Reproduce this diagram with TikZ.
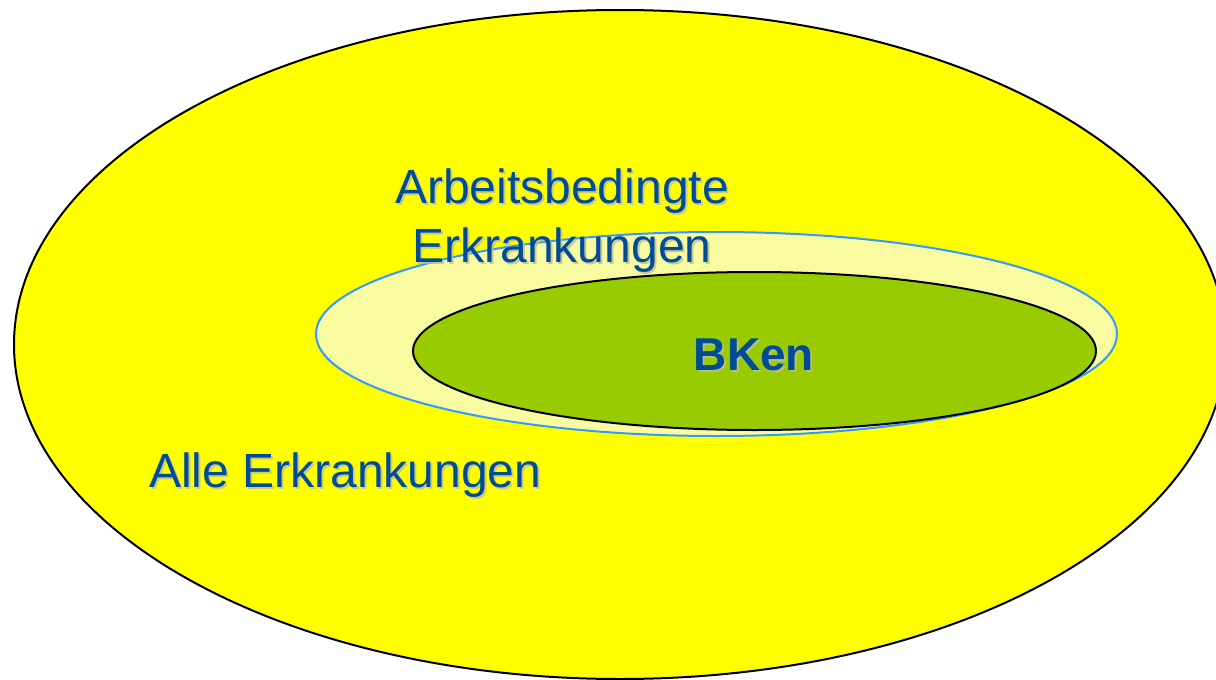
\documentclass[tikz,border=0pt]{standalone}
\usepackage{fontspec}
\setmainfont{Liberation Sans}
\definecolor{outerfill}{RGB}{255,255,0}
\definecolor{midfill}{RGB}{249,251,160}
\definecolor{midline}{RGB}{51,153,255}
\definecolor{innerfill}{RGB}{153,204,0}
\definecolor{txtblue}{RGB}{0,76,153}
\definecolor{shadowgray}{RGB}{190,190,150}
\tikzset{
  lbl/.style={text=txtblue, font=\fontsize{48}{58}\selectfont, inner sep=0pt, anchor=base},
  shd/.style={text=shadowgray, font=\fontsize{48}{58}\selectfont, inner sep=0pt, anchor=base, opacity=0.8},
}
\begin{document}
\begin{tikzpicture}[x=1pt,y=-1pt]
\useasboundingbox (0,0) rectangle (1216,680);
\clip (0,0) rectangle (1216,680);
\fill[white] (0,0) rectangle (1216,680);
% outer
\draw[fill=outerfill, line width=2pt] (620,344.5) ellipse [x radius=606, y radius=334.5];
% middle
\draw[fill=midfill, draw=midline, line width=2pt] (716.5,334) ellipse [x radius=400.5, y radius=102];
% inner
\draw[fill=innerfill, line width=2pt] (754.5,351) ellipse [x radius=341.5, y radius=79];
% texts with shadows
\node[shd] (s1) at (564,205) {Arbeitsbedingte};
\node[lbl] (t1) at (562,203) {Arbeitsbedingte};
\node[shd] (s2) at (564,264) {Erkrankungen};
\node[lbl] (t2) at (562,262) {Erkrankungen};
\node[shd, anchor=base west] (s3) at (151,489) {Alle Erkrankungen};
\node[lbl, anchor=base west] (t3) at (149,487) {Alle Erkrankungen};
\node[shd, font=\fontsize{46}{56}\selectfont\bfseries] (s4) at (756,372) {BKen};
\node[lbl, font=\fontsize{46}{56}\selectfont\bfseries] (t4) at (754,370) {BKen};
\end{tikzpicture}
\end{document}
